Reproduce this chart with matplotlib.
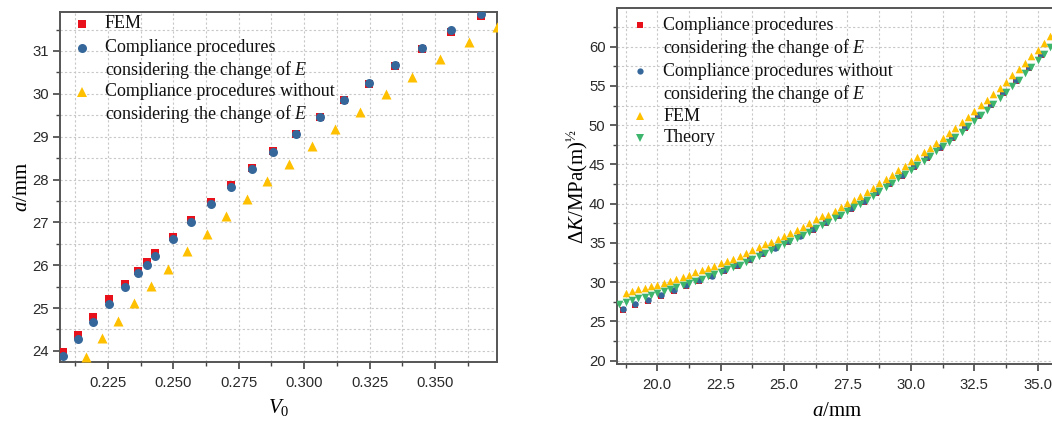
import matplotlib
matplotlib.use('Agg')
import matplotlib.pyplot as plt
from matplotlib.ticker import MultipleLocator, FormatStrFormatter

plt.rcParams['mathtext.fontset'] = 'custom'
plt.rcParams['mathtext.rm'] = 'Liberation Serif'
plt.rcParams['mathtext.it'] = 'Liberation Serif:italic'

# ---------------- Left panel data (V0 vs a) ----------------
v0_cp = [0.2078, 0.2135, 0.2195, 0.2254, 0.2317, 0.2365, 0.2398, 0.2431, 0.2499, 0.2569, 0.2643,
         0.2722, 0.2801, 0.2882, 0.2969, 0.3060, 0.3151, 0.3249, 0.3348, 0.3452, 0.3562, 0.3676]
a_fem = [23.98, 24.37, 24.78, 25.21, 25.57, 25.87, 26.07, 26.28, 26.66, 27.05, 27.47,
         27.87, 28.26, 28.67, 29.06, 29.45, 29.85, 30.24, 30.64, 31.04, 31.44, 31.82]
a_cp = [23.88, 24.27, 24.68, 25.09, 25.50, 25.81, 26.00, 26.21, 26.60, 27.01, 27.42,
        27.83, 28.24, 28.64, 29.06, 29.45, 29.86, 30.26, 30.67, 31.07, 31.48, 31.87]
v0_no = [0.2165, 0.2227, 0.2288, 0.2351, 0.2416, 0.2481, 0.2554, 0.2627, 0.2702, 0.2780,
         0.2859, 0.2944, 0.3031, 0.3118, 0.3213, 0.3312, 0.3413, 0.3520, 0.3631, 0.3737]
a_no = [23.86, 24.29, 24.70, 25.11, 25.51, 25.91, 26.32, 26.73, 27.15, 27.54,
        27.96, 28.36, 28.78, 29.17, 29.58, 30.00, 30.39, 30.81, 31.22, 31.57]

# ---------------- Right panel data (a vs dK) ----------------
a_comp = [18.64, 19.14, 19.64, 20.14, 20.64, 21.14, 21.64, 22.14, 22.64, 23.14, 23.64, 24.14,
          24.64, 25.14, 25.64, 26.14, 26.64, 27.14, 27.64, 28.14, 28.64, 29.14, 29.64, 30.14,
          30.64, 31.14, 31.64, 32.14, 32.64, 33.14, 33.64, 34.14, 34.64, 35.14]
dk_with_e = [26.44, 27.08, 27.63, 28.22, 28.86, 29.50, 30.14, 30.73, 31.42, 32.06, 32.82, 33.59,
             34.30, 35.07, 35.83, 36.65, 37.49, 38.38, 39.33, 40.28, 41.38, 42.48, 43.58, 44.68,
             45.83, 47.08, 48.33, 49.68, 51.13, 52.58, 54.08, 55.68, 57.28, 58.98]
dk_without_e = [26.56, 27.20, 27.75, 28.35, 28.98, 29.62, 30.26, 30.85, 31.54, 32.18, 32.94, 33.71,
                34.42, 35.19, 35.95, 36.77, 37.61, 38.50, 39.45, 40.40, 41.50, 42.60, 43.70, 44.80,
                45.95, 47.20, 48.45, 49.80, 51.25, 52.70, 54.20, 55.80, 57.40, 59.10]
a_fem_r = [18.75, 19.0, 19.25, 19.5, 19.75, 20.0, 20.25, 20.5, 20.75, 21.0, 21.25, 21.5, 21.75,
           22.0, 22.25, 22.5, 22.75, 23.0, 23.25, 23.5, 23.75, 24.0, 24.25, 24.5, 24.75, 25.0,
           25.25, 25.5, 25.75, 26.0, 26.25, 26.5, 26.75, 27.0, 27.25, 27.5, 27.75, 28.0, 28.25,
           28.5, 28.75, 29.0, 29.25, 29.5, 29.75, 30.0, 30.25, 30.5, 30.75, 31.0, 31.25, 31.5,
           31.75, 32.0, 32.25, 32.5, 32.75, 33.0, 33.25, 33.5, 33.75, 34.0, 34.25, 34.5, 34.75,
           35.0, 35.25, 35.5]
dk_fem = [28.65, 28.87, 29.10, 29.30, 29.48, 29.68, 29.94, 30.18, 30.44, 30.69, 30.97, 31.25, 31.52,
          31.78, 32.07, 32.40, 32.70, 33.00, 33.33, 33.70, 34.07, 34.44, 34.81, 35.15, 35.51, 35.87,
          36.26, 36.66, 37.08, 37.52, 38.05, 38.40, 38.62, 39.10, 39.59, 40.03, 40.51, 40.98, 41.49,
          42.04, 42.60, 43.16, 43.72, 44.27, 44.83, 45.39, 45.95, 46.54, 47.15, 47.77, 48.41, 49.03,
          49.69, 50.37, 51.07, 51.80, 52.53, 53.26, 54.00, 54.76, 55.53, 56.34, 57.14, 57.95, 58.77,
          59.62, 60.49, 61.36]
a_theory = [18.5, 18.75, 19.0, 19.25, 19.5, 19.75, 20.0, 20.25, 20.5, 20.75, 21.0, 21.25, 21.5,
            21.75, 22.0, 22.25, 22.5, 22.75, 23.0, 23.25, 23.5, 23.75, 24.0, 24.25, 24.5, 24.75,
            25.0, 25.25, 25.5, 25.75, 26.0, 26.25, 26.5, 26.75, 27.0, 27.25, 27.5, 27.75, 28.0,
            28.25, 28.5, 28.75, 29.0, 29.25, 29.5, 29.75, 30.0, 30.25, 30.5, 30.75, 31.0, 31.25,
            31.5, 31.75, 32.0, 32.25, 32.5, 32.75, 33.0, 33.25, 33.5, 33.75, 34.0, 34.25, 34.5,
            34.75, 35.0, 35.25, 35.5]
dk_theory = [27.28, 27.50, 27.72, 27.94, 28.15, 28.37, 28.65, 28.90, 29.14, 29.40, 29.66, 29.93, 30.20,
             30.47, 30.73, 31.02, 31.35, 31.63, 31.92, 32.25, 32.63, 33.01, 33.39, 33.77, 34.12, 34.49,
             34.87, 35.26, 35.64, 36.03, 36.44, 36.85, 37.27, 37.71, 38.15, 38.61, 39.08, 39.56, 39.98,
             40.49, 41.04, 41.59, 42.14, 42.69, 43.24, 43.79, 44.34, 44.90, 45.48, 46.06, 46.68, 47.30,
             47.92, 48.56, 49.18, 49.87, 50.59, 51.30, 52.00, 52.73, 53.48, 54.25, 55.00, 55.80, 56.60,
             57.40, 58.25, 59.10, 59.98]

RED = '#E8101A'
BLUE = '#36679A'
YELLOW = '#FFC000'
GREEN = '#3DB56C'
SERIF = 'Liberation Serif'
SANS = 'Liberation Sans'

fig = plt.figure(figsize=(10.52, 4.23), dpi=100)
ax1 = fig.add_axes([60 / 1052, 1 - 362 / 423, 437 / 1052, 350 / 423])
ax2 = fig.add_axes([616.7 / 1052, 1 - 364.3 / 423, 441.3 / 1052, 356 / 423])


def style(ax, xmaj, ymaj, xfmt, yfmt):
    ax.xaxis.set_major_locator(MultipleLocator(xmaj))
    ax.xaxis.set_minor_locator(MultipleLocator(xmaj / 2))
    ax.yaxis.set_major_locator(MultipleLocator(ymaj))
    ax.yaxis.set_minor_locator(MultipleLocator(ymaj / 2))
    ax.xaxis.set_major_formatter(FormatStrFormatter(xfmt))
    ax.yaxis.set_major_formatter(FormatStrFormatter(yfmt))
    ax.set_axisbelow(True)
    ax.grid(True, which='both', linestyle=(0, (2, 2)), color='#c8c8c8', linewidth=0.8)
    ax.tick_params(which='major', direction='out', length=5, width=1.2, color='#444444',
                   labelsize=10.7, labelcolor='#2a2a2a', top=False, right=False)
    ax.tick_params(which='minor', direction='out', length=3, width=1.0, color='#444444',
                   top=False, right=False)
    ax.tick_params(axis='x', which='major', pad=5)
    ax.tick_params(axis='y', which='major', pad=3)
    for lab in ax.get_xticklabels() + ax.get_yticklabels():
        lab.set_fontfamily(SANS)
    for sp in ax.spines.values():
        sp.set_linewidth(1.4)
        sp.set_color('#555555')


# ---------------- Left panel ----------------
ax1.scatter(v0_cp, a_fem, marker='s', s=34, color=RED, linewidths=0, zorder=3)
ax1.scatter(v0_cp, a_cp, marker='o', s=42, color=BLUE, linewidths=0, zorder=4)
ax1.scatter(v0_no, a_no, marker='^', s=52, color=YELLOW, linewidths=0, zorder=3)
ax1.set_xlim(0.2067, 0.3737)
ax1.set_ylim(23.74, 31.91)
style(ax1, 0.025, 1, '%.3f', '%d')
ax1.set_xlabel('$V_0$', fontsize=15, fontfamily=SERIF)
ax1.set_ylabel('$a$/mm', fontsize=15, fontfamily=SERIF)
ax1.xaxis.set_label_coords(0.5, -0.10)
ax1.yaxis.set_label_coords(-0.064, 0.5)

leg1 = [('s', RED, 6, ['FEM']),
        ('o', BLUE, 6.5, ['Compliance procedures', 'considering the change of $E$']),
        ('^', YELLOW, 7.5, ['Compliance procedures without', 'considering the change of $E$'])]
ys1 = [24, 48, 92]
for (m, c, ms, lines), y0 in zip(leg1, ys1):
    fy = (362 - y0) / 350
    ax1.plot([0.0503], [fy], marker=m, color=c, markersize=ms, markeredgewidth=0,
             linestyle='none', transform=ax1.transAxes, clip_on=False, zorder=5)
    for i, t in enumerate(lines):
        ax1.text(0.103, (362 - (y0 + 22 * i)) / 350, t, transform=ax1.transAxes,
                 fontsize=13, fontfamily=SERIF, va='center', ha='left', color='#111111', zorder=5)

# ---------------- Right panel ----------------
ax2.scatter(a_comp, dk_with_e, marker='s', s=22, color=RED, linewidths=0, zorder=3)
ax2.scatter(a_comp, dk_without_e, marker='o', s=22, color=BLUE, linewidths=0, zorder=4)
ax2.scatter(a_fem_r, dk_fem, marker='^', s=30, color=YELLOW, linewidths=0, zorder=5)
ax2.scatter(a_theory, dk_theory, marker='v', s=30, color=GREEN, linewidths=0, zorder=6)
ax2.set_xlim(18.40, 35.80)
ax2.set_ylim(19.54, 64.9)
style(ax2, 2.5, 5, '%.1f', '%d')
ax2.set_xlabel('$a$/mm', fontsize=15, fontfamily=SERIF)
ax2.set_ylabel(r'$\Delta K$/MPa(m)$^{½}$', fontsize=15, fontfamily=SERIF)
ax2.xaxis.set_label_coords(0.5, -0.105)
ax2.yaxis.set_label_coords(-0.061, 0.5)

leg2 = [('s', RED, 4.5, ['Compliance procedures', 'considering the change of $E$']),
        ('o', BLUE, 4.5, ['Compliance procedures without', 'considering the change of $E$']),
        ('^', YELLOW, 5.5, ['FEM']),
        ('v', GREEN, 5.5, ['Theory'])]
ys2 = [25, 71, 116, 138]
for (m, c, ms, lines), y0 in zip(leg2, ys2):
    fy = (364.3 - y0) / 356
    ax2.plot([0.0528], [fy], marker=m, color=c, markersize=ms, markeredgewidth=0,
             linestyle='none', transform=ax2.transAxes, clip_on=False, zorder=7)
    for i, t in enumerate(lines):
        ax2.text(0.1056, (364.3 - (y0 + 23 * i)) / 356, t, transform=ax2.transAxes,
                 fontsize=13, fontfamily=SERIF, va='center', ha='left', color='#111111', zorder=7)

fig.savefig('out.png', dpi=100)
